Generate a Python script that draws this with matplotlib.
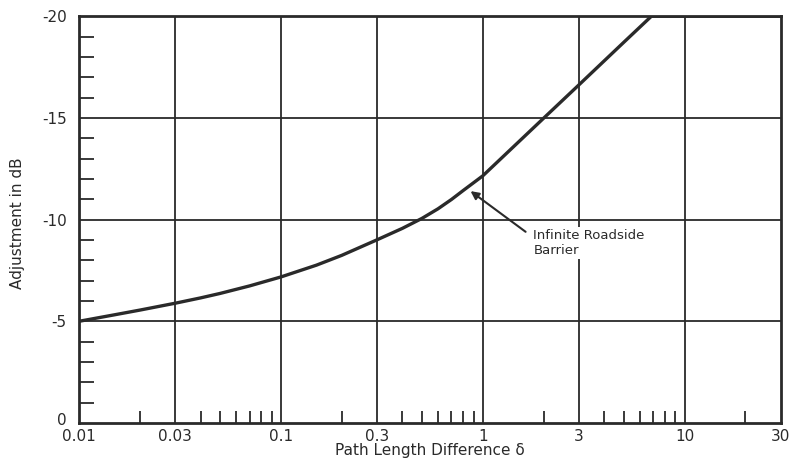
#!/usr/bin/env python3

## Barrier adjustment vs path length difference ##
import matplotlib
matplotlib.use('Agg')
import matplotlib.pyplot as plt
import matplotlib.transforms as mtransforms

## Data ##
delta = [0.01, 0.015, 0.02, 0.03, 0.04, 0.05, 0.07, 0.1, 0.15, 0.2, 0.3,
         0.4, 0.5, 0.6, 0.7, 0.8, 1.0, 2.0, 3.0, 5.0, 6.85, 30.0]
adjust = [-5.0, -5.32, -5.55, -5.89, -6.15, -6.37, -6.74, -7.18, -7.76, -8.24, -9.01,
          -9.57, -10.06, -10.53, -10.99, -11.43, -12.15, -14.98, -16.63, -18.72, -20.0, -20.0]

major_x = [0.01, 0.03, 0.1, 0.3, 1, 3, 10, 30]
major_x_labels = ['0.01', '0.03', '0.1', '0.3', '1', '3', '10', '30']
minor_x = [0.02, 0.04, 0.05, 0.06, 0.07, 0.08, 0.09,
           0.2, 0.4, 0.5, 0.6, 0.7, 0.8, 0.9,
           2, 4, 5, 6, 7, 8, 9, 20]
major_y = [0, -5, -10, -15, -20]
minor_y = [v for v in range(-19, 0) if v % 5 != 0]

ink = '#2a2a2a'
plt.rcParams['font.family'] = ['DejaVu Sans']

fig = plt.figure(figsize=(7.91, 4.62), dpi=100)
ax = fig.add_axes([0.0999, 0.0844, 0.8874, 0.8806])

ax.set_xscale('log')
ax.set_xlim(0.01, 30)
ax.set_ylim(0, -20)

# grid
for xv in major_x[1:-1]:
    ax.axvline(xv, color=ink, lw=1.3, zorder=1)
for yv in major_y[1:-1]:
    ax.axhline(yv, color=ink, lw=1.3, zorder=1)

# curve
ax.plot(delta, adjust, color=ink, lw=2.4, zorder=3)

# ticks
ax.set_xticks(major_x)
ax.set_xticklabels(major_x_labels)
ax.set_xticks(minor_x, minor=True)
ax.set_yticks(major_y)
ax.set_yticklabels([str(v) for v in major_y])
ax.set_yticks(minor_y, minor=True)
ax.tick_params(axis='x', which='major', length=0, labelsize=11, colors=ink, pad=4)
ax.tick_params(axis='y', which='major', length=0, labelsize=11, colors=ink, pad=9)
ax.tick_params(axis='x', which='minor', direction='in', length=9, width=1.3,
               color=ink, bottom=True, top=False)
ax.tick_params(axis='y', which='minor', direction='in', length=11, width=1.3,
               color=ink, left=True, right=False)
ax.xaxis.set_minor_formatter(plt.NullFormatter())

# lift the "0" label a little, it sits just above "0.01"
zero_lbl = ax.yaxis.get_majorticklabels()[0]
zero_lbl.set_transform(zero_lbl.get_transform() +
                       mtransforms.ScaledTranslation(0, 3 / 72, fig.dpi_scale_trans))

for s in ax.spines.values():
    s.set_color(ink)
    s.set_linewidth(2.0)

ax.set_xlabel('Path Length Difference \u03b4', fontsize=11, color=ink)
ax.xaxis.set_label_coords(0.5, -0.05)
ax.set_ylabel('Adjustment in dB', fontsize=11, color=ink)
ax.yaxis.set_label_coords(-0.077, 0.49)

# annotation
ax.annotate('', xy=(0.87, -11.4), xytext=(1.63, -9.4),
            arrowprops=dict(arrowstyle='-|>', color=ink, lw=1.5,
                            mutation_scale=12, shrinkA=0, shrinkB=0), zorder=4)
ax.text(1.78, -9.55, 'Infinite Roadside\nBarrier', fontsize=9.5, color=ink,
        ha='left', va='top', linespacing=1.25, zorder=4,
        bbox=dict(facecolor='white', edgecolor='none', pad=1.5))

fig.savefig('out.png', dpi=100)
